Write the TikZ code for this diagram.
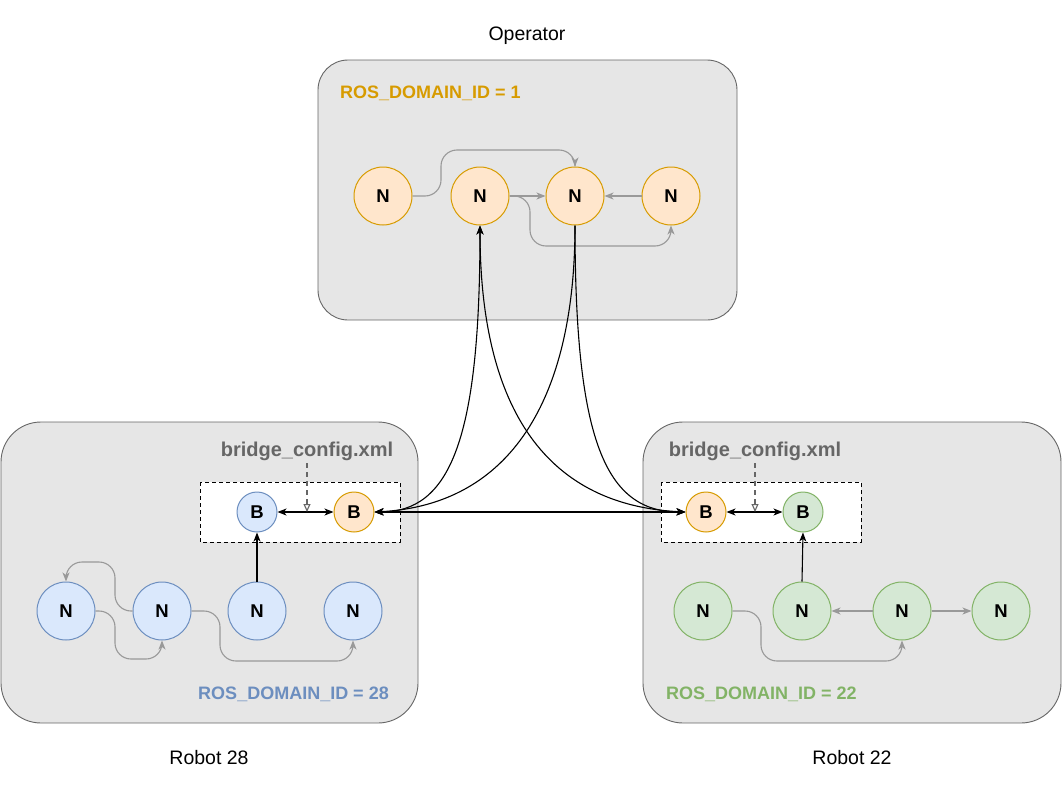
\documentclass[tikz,border=0pt]{standalone}
\usepackage{fontspec}
\setmainfont{Liberation Sans}
\usetikzlibrary{arrows.meta}
\definecolor{ostroke}{HTML}{D79B00}
\definecolor{ofill}{HTML}{FFE6CC}
\definecolor{bstroke}{HTML}{6C8EBF}
\definecolor{bfill}{HTML}{DAE8FC}
\definecolor{gstroke}{HTML}{82B366}
\definecolor{gfill}{HTML}{D5E8D4}
\definecolor{boxfill}{HTML}{E6E6E6}
\definecolor{boxline}{HTML}{666666}
\definecolor{edgegray}{HTML}{999999}
\tikzset{
  host/.style={draw=boxline,fill=boxfill,line width=0.9pt},
  cfgbox/.style={draw=black,fill=white,line width=0.9pt,dash pattern=on 4pt off 3pt},
  ros/.style={circle,line width=1pt,inner sep=0pt,minimum size=58pt,font=\fontsize{18.5}{18}\selectfont\bfseries},
  brg/.style={circle,line width=1pt,inner sep=0pt,minimum size=40pt,font=\fontsize{18.5}{18}\selectfont\bfseries},
  orange/.style={draw=ostroke,fill=ofill},
  blue/.style={draw=bstroke,fill=bfill},
  green/.style={draw=gstroke,fill=gfill},
  idlbl/.style={font=\fontsize{18}{18}\selectfont\bfseries,inner sep=0pt},
  cfglbl/.style={font=\fontsize{20}{20}\selectfont\bfseries,text=boxline,inner sep=0pt},
  hostlbl/.style={font=\fontsize{19.5}{20}\selectfont,inner sep=0pt},
  local/.style={draw=edgegray,line width=1.1pt,->,rounded corners=16pt},
  link/.style={draw=black,line width=1.1pt},
  cfgarrow/.style={draw=boxline,line width=1.1pt,dash pattern=on 4.5pt off 4.5pt,-{Triangle[open,length=8pt,width=7pt]}}
}
\begin{document}
\begin{tikzpicture}[x=1pt,y=-1pt,line join=round,>={Stealth[length=9pt,width=7pt,inset=2.5pt]}]
\useasboundingbox (0,0) rectangle (1063,795);
\draw[host,rounded corners=30pt] (318,60) rectangle (737,320);
\draw[host,rounded corners=40pt] (1,422) rectangle (418,723);
\draw[host,rounded corners=40pt] (643,422) rectangle (1061,723);
\draw[cfgbox] (200,482) rectangle (400,542);
\draw[cfgbox] (661,482) rectangle (861,542);

\node[hostlbl] (op) at (527,36) {Operator};
\node[hostlbl] (r28) at (209,758) {Robot 28};
\node[hostlbl] (r22) at (852,758) {Robot 22};
\node[idlbl,text=ostroke,anchor=west] (id1) at (340,93) {ROS\_DOMAIN\_ID = 1};
\node[idlbl,text=bstroke,anchor=east] (id28) at (389,694) {ROS\_DOMAIN\_ID = 28};
\node[idlbl,text=gstroke,anchor=west] (id22) at (666,694) {ROS\_DOMAIN\_ID = 22};
\node[cfglbl] (lcfg) at (307,451) {bridge\_config.xml};
\node[cfglbl] (rcfg) at (755,451) {bridge\_config.xml};

\foreach \n/\x in {1/383,2/480,3/575,4/671}
  \node[ros,orange] (T\n) at (\x,196) {N};
\foreach \n/\x in {1/66,2/162,3/257,4/353}
  \node[ros,blue] (L\n) at (\x,611) {N};
\foreach \n/\x in {1/703,2/802,3/902,4/1001}
  \node[ros,green] (R\n) at (\x,611) {N};
\node[brg,blue] (LB) at (257,512) {B};
\node[brg,orange] (LO) at (354,512) {B};
\node[brg,orange] (RO) at (706,512) {B};
\node[brg,green] (RB) at (803,512) {B};
\coordinate (lmid) at (307,512);
\coordinate (rmid) at (755,512);

\draw[local] (T1.east) -| (441,150) -| (T3.north);
\draw[local] (T2.east) -- (T3.west);
\draw[local] (T2.east) -| (530,246) -| (T4.south);
\draw[local] (T4.west) -- (T3.east);
\draw[local] (L2.west) -| (115,562) -| (L1.north);
\draw[local] (L1.east) -| (115,659) -| (L2.south);
\draw[local] (L2.east) -| (220,661) -| (L4.south);
\draw[local] (R1.east) -| (761,661) -| (R3.south);
\draw[local] (R3.west) -- (R2.east);
\draw[local] (R3.east) -- (R4.west);

\draw[link,->] (L3.north) -- (LB.south);
\draw[link,->] (R2.north) -- (RB.south);
\draw[link,<->] (LB.east) -- (LO.west);
\draw[link,<->] (RO.east) -- (RB.west);
\draw[cfgarrow] ([yshift=-12pt]lcfg.center) -- (lmid);
\draw[cfgarrow] ([yshift=-12pt]rcfg.center) -- (rmid);

\draw[link,<->] (LO.east) -- (RO.west);
\draw[link,<->] (T2.south) .. controls (480,440) and (450,512) .. (LO.east);
\draw[link,<->] (T2.south) .. controls (480,400) and (540,505) .. (RO.west);
\draw[link,->] (T3.south) .. controls (575,400) and (510,505) .. (LO.east);
\draw[link,->] (T3.south) .. controls (575,440) and (605,512) .. (RO.west);
\end{tikzpicture}
\end{document}
